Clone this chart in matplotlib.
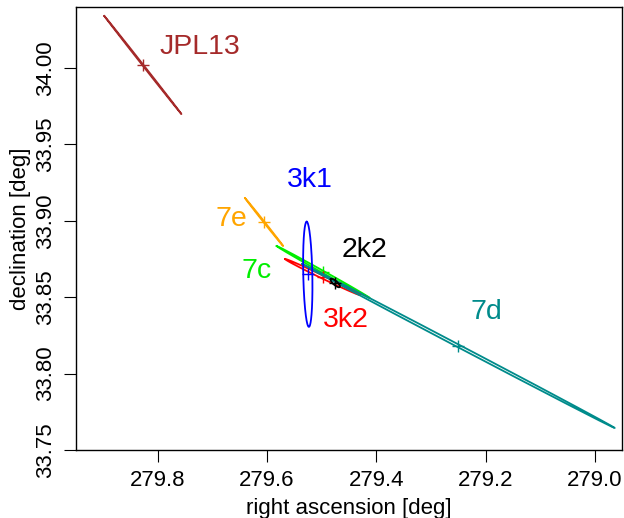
import matplotlib
matplotlib.use('Agg')
import matplotlib.pyplot as plt
import numpy as np

plt.rcParams['font.family'] = ['Liberation Sans', 'DejaVu Sans']

# orbit solutions: centre (ra, dec) and the two semi-axis vectors of the error ellipse [deg]
names = ['JPL13', '7e', '7c', '3k2', '7d', '3k1', '2k2']
colors = ['#A52A2A', '#FFA500', '#00EE00', '#FF0000', '#008B8B', '#0000FF', '#000000']
ra_c = [279.8275, 279.6055, 279.4972, 279.4982, 279.2495, 279.5255, 279.4752]
dec_c = [34.0020, 33.8992, 33.8665, 33.8632, 33.8181, 33.8650, 33.8593]
major_dra = [0.0706, 0.0349, 0.0853, 0.0688, 0.2862, 0.0020, 0.0083]
major_ddec = [0.0321, 0.0157, 0.0170, 0.0118, 0.0537, 0.0344, 0.0026]
minor_dra = [0.0007, 0.0007, 0.0010, 0.0012, 0.0011, 0.0083, 0.0024]
minor_ddec = [-0.0002, -0.0002, -0.0006, -0.0009, -0.0008, 0.0, -0.0010]

# label positions
label_ra = [279.723, 279.666, 279.620, 279.455, 279.198, 279.521, 279.422]
label_dec = [34.0137, 33.9012, 33.8671, 33.8351, 33.8403, 33.9267, 33.8809]

x_ticks = [279.8, 279.6, 279.4, 279.2, 279.0]
y_ticks = [33.75, 33.80, 33.85, 33.90, 33.95, 34.00]


fig = plt.figure(figsize=(6.24, 5.18), dpi=100)
ax = fig.add_axes([0.1218, 0.1313, 0.8750, 0.8552])

t = np.linspace(0, 2 * np.pi, 400)
for i in range(len(names)):
    xs = ra_c[i] + np.cos(t) * major_dra[i] + np.sin(t) * minor_dra[i]
    ys = dec_c[i] + np.cos(t) * major_ddec[i] + np.sin(t) * minor_ddec[i]
    ax.plot(xs, ys, color=colors[i], lw=1.3)
    ax.plot(ra_c[i], dec_c[i], marker='+', color=colors[i], markersize=9, mew=1.0)
    ax.text(label_ra[i], label_dec[i], names[i], color=colors[i], fontsize=20.5,
            ha='center', va='center')

ax.set_xlim(279.950, 278.950)
ax.set_ylim(33.75, 34.040)
ax.set_xticks(x_ticks)
ax.set_xticklabels(['%.1f' % v for v in x_ticks])
ax.set_yticks(y_ticks)
ax.set_yticklabels(['%.2f' % v for v in y_ticks], rotation=90, va='center')
ax.tick_params(direction='out', length=8.5, width=0.8, labelsize=16, pad=6)
for s in ax.spines.values():
    s.set_linewidth(1.0)

ax.set_xlabel('right ascension [deg]', fontsize=16, labelpad=5)
ax.set_ylabel('declination [deg]', fontsize=16, labelpad=3)

fig.savefig('out.png', dpi=100)
